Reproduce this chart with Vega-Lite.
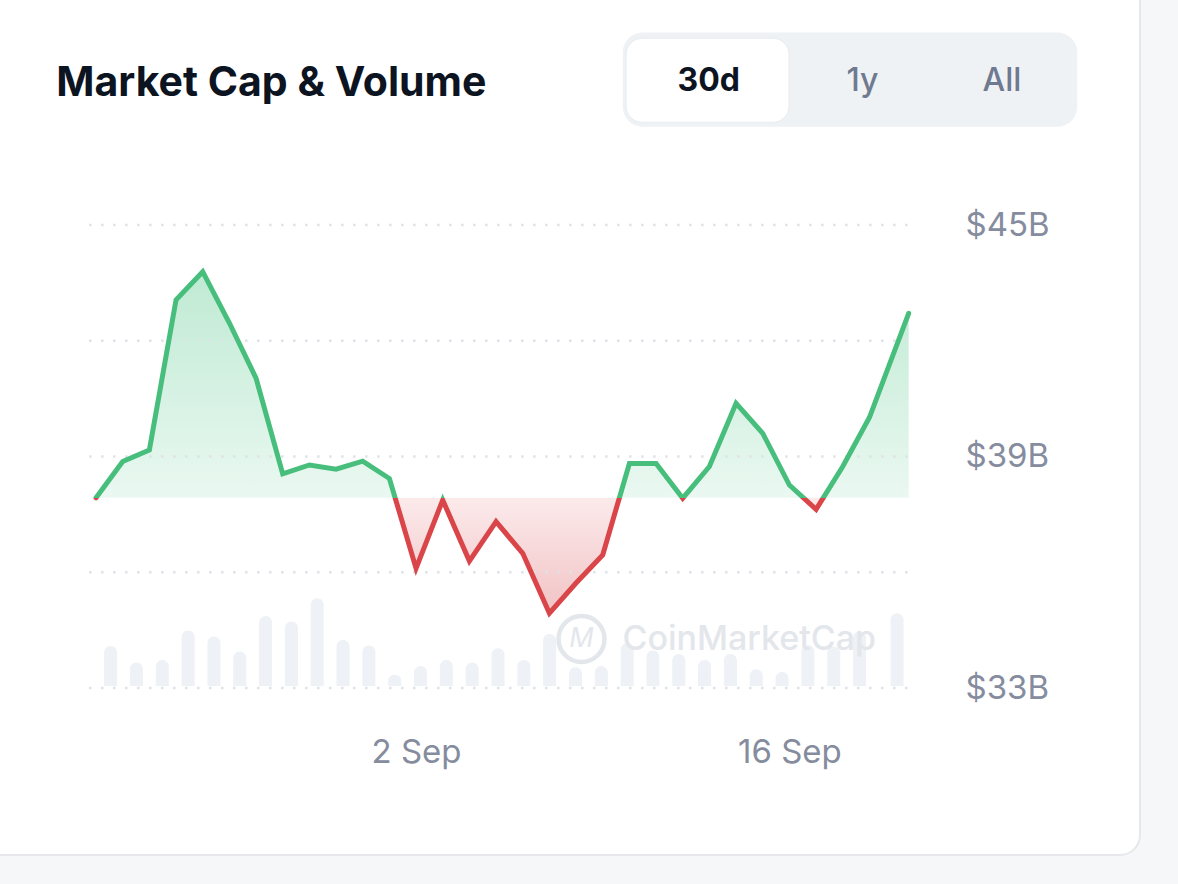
{
  "$schema": "https://vega.github.io/schema/vega-lite/v6.json",
  "width": 1160,
  "height": 875,
  "autosize": {"type": "none"},
  "padding": {"left": -20, "top": -20, "right": 38, "bottom": 29},
  "background": "#f6f7f9",
  "config": {
    "view": {"fill": "#ffffff", "stroke": "#e6e8ec", "strokeWidth": 2, "cornerRadius": 20},
    "font": "Inter"
  },
  "datasets": {
    "cap": [
      {"t": "2024-08-21T00:00", "v": 37.93},
      {"t": "2024-08-22T00:00", "v": 38.87},
      {"t": "2024-08-23T00:00", "v": 39.17},
      {"t": "2024-08-24T00:00", "v": 43.06},
      {"t": "2024-08-25T00:00", "v": 43.79},
      {"t": "2024-08-26T00:00", "v": 42.46},
      {"t": "2024-08-27T00:00", "v": 41.03},
      {"t": "2024-08-28T00:00", "v": 38.55},
      {"t": "2024-08-29T00:00", "v": 38.78},
      {"t": "2024-08-30T00:00", "v": 38.67},
      {"t": "2024-08-31T00:00", "v": 38.88},
      {"t": "2024-09-01T00:00", "v": 38.43},
      {"t": "2024-09-02T00:00", "v": 36.10},
      {"t": "2024-09-03T00:00", "v": 37.87},
      {"t": "2024-09-04T00:00", "v": 36.29},
      {"t": "2024-09-05T00:00", "v": 37.31},
      {"t": "2024-09-06T00:00", "v": 36.49},
      {"t": "2024-09-07T00:00", "v": 34.94},
      {"t": "2024-09-08T00:00", "v": 35.72},
      {"t": "2024-09-09T00:00", "v": 36.45},
      {"t": "2024-09-10T00:00", "v": 38.82},
      {"t": "2024-09-11T00:00", "v": 38.82},
      {"t": "2024-09-12T00:00", "v": 37.92},
      {"t": "2024-09-13T00:00", "v": 38.74},
      {"t": "2024-09-14T00:00", "v": 40.38},
      {"t": "2024-09-15T00:00", "v": 39.60},
      {"t": "2024-09-16T00:00", "v": 38.26},
      {"t": "2024-09-17T00:00", "v": 37.63},
      {"t": "2024-09-18T00:00", "v": 38.74},
      {"t": "2024-09-19T00:00", "v": 40.01},
      {"t": "2024-09-20T11:20", "v": 42.71}
    ],
    "volume": [
      {"t": "2024-08-21T13:07", "vol": 2.00},
      {"t": "2024-08-22T12:21", "vol": 1.17},
      {"t": "2024-08-23T11:36", "vol": 1.30},
      {"t": "2024-08-24T10:50", "vol": 2.77},
      {"t": "2024-08-25T10:05", "vol": 2.47},
      {"t": "2024-08-26T09:19", "vol": 1.72},
      {"t": "2024-08-27T08:34", "vol": 3.50},
      {"t": "2024-08-28T07:48", "vol": 3.22},
      {"t": "2024-08-29T07:03", "vol": 4.39},
      {"t": "2024-08-30T06:17", "vol": 2.30},
      {"t": "2024-08-31T05:32", "vol": 2.02},
      {"t": "2024-09-01T04:46", "vol": 0.55},
      {"t": "2024-09-02T04:01", "vol": 1.00},
      {"t": "2024-09-03T03:15", "vol": 1.30},
      {"t": "2024-09-04T02:30", "vol": 1.17},
      {"t": "2024-09-05T01:44", "vol": 1.89},
      {"t": "2024-09-06T00:59", "vol": 1.30},
      {"t": "2024-09-07T00:13", "vol": 2.60},
      {"t": "2024-09-07T23:28", "vol": 0.94},
      {"t": "2024-09-08T22:42", "vol": 1.00},
      {"t": "2024-09-09T21:57", "vol": 2.14},
      {"t": "2024-09-10T21:11", "vol": 1.77},
      {"t": "2024-09-11T20:26", "vol": 1.60},
      {"t": "2024-09-12T19:40", "vol": 1.30},
      {"t": "2024-09-13T18:55", "vol": 1.60},
      {"t": "2024-09-14T18:09", "vol": 0.84},
      {"t": "2024-09-15T17:24", "vol": 0.70},
      {"t": "2024-09-16T16:38", "vol": 2.05},
      {"t": "2024-09-17T15:53", "vol": 1.97},
      {"t": "2024-09-18T15:07", "vol": 2.72},
      {"t": "2024-09-20T00:53", "vol": 3.64}
    ],
    "grid": [{"v": 33}, {"v": 36}, {"v": 39}, {"v": 42}, {"v": 45}]
  },
  "resolve": {"scale": {"y": "independent"}},
  "layer": [
    {
      "data": {"name": "volume"},
      "mark": {"type": "bar", "width": 13, "color": "#eef1f5", "cornerRadiusTopLeft": 6.5, "cornerRadiusTopRight": 6.5},
      "encoding": {
        "x": {"field": "t", "type": "temporal",
          "scale": {"domain": [{"year": 2024, "month": 8, "date": 16, "hours": 20, "minutes": 4}, {"year": 2024, "month": 9, "date": 28, "hours": 23, "minutes": 1}], "nice": false}},
        "y": {"field": "vol", "type": "quantitative", "axis": null, "scale": {"domain": [-8.45, 35.3], "nice": false, "zero": false}},
        "y2": {"datum": 0}
      }
    },
    {
      "layer": [
        {
          "data": {"name": "cap"},
          "mark": {"type": "area",
            "fill": {"gradient": "linear", "x1": 0, "y1": 0, "x2": 0, "y2": 1,
              "stops": [
                {"offset": 0, "color": "#bfead3"},
                {"offset": 0.6621, "color": "#eaf8f1"},
                {"offset": 0.6621, "color": "#fceaeb"},
                {"offset": 1, "color": "#f1c3c5"}
              ]}},
          "encoding": {
            "x": {"field": "t", "type": "temporal"},
            "y": {"field": "v", "type": "quantitative"},
            "y2": {"datum": 37.93}
          }
        },
        {
          "data": {"name": "grid"},
          "mark": {"type": "rule", "stroke": "#dfe2e7", "strokeWidth": 2.5, "strokeDash": [2.5, 9.5]},
          "encoding": {
            "y": {"field": "v", "type": "quantitative"},
            "x": {"datum": {"year": 2024, "month": 8, "date": 20, "hours": 17, "minutes": 45}, "type": "temporal"},
            "x2": {"datum": {"year": 2024, "month": 9, "date": 20, "hours": 14, "minutes": 16}}
          }
        },
        {
          "data": {"values": [{"logo": "CoinMarketCap"}]},
          "mark": {"type": "point", "shape": "circle", "filled": false, "size": 2116, "color": "#e3e6eb", "strokeWidth": 4.5, "opacity": 1},
          "encoding": {
            "x": {"datum": {"year": 2024, "month": 9, "date": 8, "hours": 4, "minutes": 54}, "type": "temporal"},
            "y": {"datum": 34.27}
          }
        },
        {
          "data": {"values": [{"label": "M"}]},
          "mark": {"type": "text", "align": "center", "baseline": "middle", "fontSize": 27, "fontStyle": "italic", "fontWeight": 400, "color": "#e3e6eb"},
          "encoding": {
            "x": {"datum": {"year": 2024, "month": 9, "date": 8, "hours": 4, "minutes": 54}, "type": "temporal"},
            "y": {"datum": 34.27},
            "text": {"field": "label"}
          }
        },
        {
          "data": {"values": [{"label": "CoinMarketCap"}]},
          "mark": {"type": "text", "align": "left", "baseline": "middle", "fontSize": 34, "fontWeight": 500, "color": "#e3e6eb"},
          "encoding": {
            "x": {"datum": {"year": 2024, "month": 9, "date": 9, "hours": 17, "minutes": 45}, "type": "temporal"},
            "y": {"datum": 34.244},
            "text": {"field": "label"}
          }
        },
        {
          "data": {"name": "cap"},
          "mark": {"type": "line", "strokeWidth": 5, "strokeCap": "round",
            "stroke": {"gradient": "linear", "x1": 0, "y1": 0, "x2": 0, "y2": 1,
              "stops": [
                {"offset": 0, "color": "#48be7d"},
                {"offset": 0.6621, "color": "#48be7d"},
                {"offset": 0.6621, "color": "#d94548"},
                {"offset": 1, "color": "#d94548"}
              ]}},
          "encoding": {
            "x": {"field": "t", "type": "temporal",
              "scale": {"domain": [{"year": 2024, "month": 8, "date": 16, "hours": 20, "minutes": 4}, {"year": 2024, "month": 9, "date": 28, "hours": 23, "minutes": 1}], "nice": false},
              "axis": {"orient": "bottom", "offset": -103, "zindex": 2, "values": [{"year": 2024, "month": 9, "date": 2}, {"year": 2024, "month": 9, "date": 16}],
                "format": "%-d %b", "labelFont": "Inter", "labelFontSize": 33, "labelColor": "#858c9e", "labelPadding": 0,
                "ticks": false, "tickSize": 0, "domain": false, "grid": false, "title": null,
                "labelBaseline": "middle", "labelAlign": "center", "labelFlush": false, "labelOverlap": false}},
            "y": {"field": "v", "type": "quantitative",
              "scale": {"domain": [28.672, 51.35], "nice": false, "zero": false},
              "axis": {"orient": "right", "offset": -175, "zindex": 2, "values": [33, 39, 45], "labelExpr": "'$' + datum.value + 'B'",
                "labelFont": "Inter", "labelFontSize": 33, "labelColor": "#858c9e", "labelPadding": 0,
                "ticks": false, "tickSize": 0, "domain": false, "grid": false, "title": null,
                "labelAlign": "left", "labelBaseline": "middle", "labelOverlap": false}}
          }
        },
        {
          "data": {"values": [{"label": "Market Cap & Volume"}]},
          "mark": {"type": "text", "align": "left", "baseline": "alphabetic", "fontSize": 41, "fontWeight": 700, "color": "#0d1421"},
          "encoding": {
            "x": {"datum": {"year": 2024, "month": 8, "date": 19, "hours": 12, "minutes": 18}, "type": "temporal"},
            "y": {"datum": 48.351},
            "text": {"field": "label"}
          }
        },
        {
          "data": {"values": [{"control": "range"}]},
          "mark": {"type": "rect", "color": "#eff2f5", "cornerRadius": 20},
          "encoding": {
            "x": {"datum": {"year": 2024, "month": 9, "date": 9, "hours": 18, "minutes": 1}, "type": "temporal"},
            "x2": {"datum": {"year": 2024, "month": 9, "date": 26, "hours": 19, "minutes": 1}},
            "y": {"datum": 49.99},
            "y2": {"datum": 47.548}
          }
        },
        {
          "data": {"values": [{"control": "selected"}]},
          "mark": {"type": "rect", "fill": "#ffffff", "stroke": "#e9ecf0", "strokeWidth": 1, "cornerRadius": 16},
          "encoding": {
            "x": {"datum": {"year": 2024, "month": 9, "date": 9, "hours": 21, "minutes": 3}, "type": "temporal"},
            "x2": {"datum": {"year": 2024, "month": 9, "date": 15, "hours": 23, "minutes": 38}},
            "y": {"datum": 49.839},
            "y2": {"datum": 47.662}
          }
        },
        {
          "data": {"values": [{"label": "30d"}]},
          "mark": {"type": "text", "align": "center", "baseline": "alphabetic", "fontSize": 32, "fontWeight": 700, "color": "#0d1421"},
          "encoding": {
            "x": {"datum": {"year": 2024, "month": 9, "date": 12, "hours": 23, "minutes": 23}, "type": "temporal"},
            "y": {"datum": 48.473},
            "text": {"field": "label"}
          }
        },
        {
          "data": {"values": [{"label": "1y"}]},
          "mark": {"type": "text", "align": "center", "baseline": "alphabetic", "fontSize": 32, "fontWeight": 500, "color": "#6f7a90"},
          "encoding": {
            "x": {"datum": {"year": 2024, "month": 9, "date": 18, "hours": 17, "minutes": 40}, "type": "temporal"},
            "y": {"datum": 48.473},
            "text": {"field": "label"}
          }
        },
        {
          "data": {"values": [{"label": "All"}]},
          "mark": {"type": "text", "align": "center", "baseline": "alphabetic", "fontSize": 32, "fontWeight": 500, "color": "#6f7a90"},
          "encoding": {
            "x": {"datum": {"year": 2024, "month": 9, "date": 23, "hours": 23, "minutes": 12}, "type": "temporal"},
            "y": {"datum": 48.473},
            "text": {"field": "label"}
          }
        }
      ]
    }
  ]
}
